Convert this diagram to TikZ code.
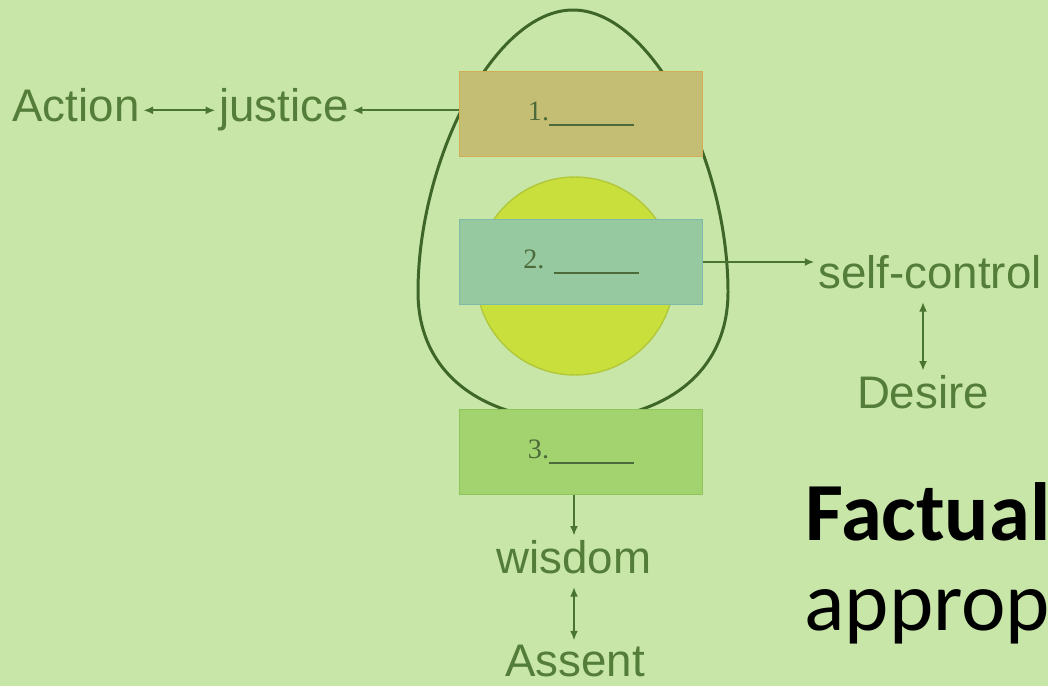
\documentclass[tikz,border=0pt]{standalone}
\usepackage{fontspec}
\setmainfont{Liberation Sans}
\newfontfamily\slidefont{Carlito}
\newfontfamily\blankfont{Liberation Serif}
\usetikzlibrary{arrows,arrows.meta,positioning}

\definecolor{slidebg}{HTML}{C7E6A7}
\definecolor{eggline}{HTML}{3E6628}
\definecolor{wordgreen}{HTML}{557D3A}
\definecolor{arrowgreen}{HTML}{4A7530}
\definecolor{yolk}{HTML}{C9DF3C}
\definecolor{yolkline}{HTML}{B2C83A}
\definecolor{boxone}{HTML}{C3BE74}
\definecolor{boxoneline}{HTML}{D1AE55}
\definecolor{boxtwo}{HTML}{96C9A0}
\definecolor{boxtwoline}{HTML}{7DBBA8}
\definecolor{boxthree}{HTML}{A2D36F}
\definecolor{boxthreeline}{HTML}{8DC45C}
\definecolor{blanktext}{HTML}{4D6B3A}

\newcommand{\blankline}{\rule[-3pt]{1.7cm}{0.9pt}}

\begin{document}
\begin{tikzpicture}[x=0.02cm,y=-0.02cm,
  word/.style={text=wordgreen,font=\fontsize{26}{29}\selectfont,
    text height=19pt,text depth=5.7pt,inner sep=2pt},
  blank/.style={draw=#1line,fill=#1,line width=0.8pt,minimum width=4.86cm,
    minimum height=1.7cm,inner sep=0pt,text=blanktext,
    font=\blankfont\fontsize{16}{18}\selectfont},
  link/.style={draw=arrowgreen,line width=1.1pt,-{Latex[length=5.5pt,width=4.5pt]}},
  twoway/.style={draw=arrowgreen,line width=1.1pt,
    {Latex[length=5.5pt,width=4.5pt]}-{Latex[length=5.5pt,width=4.5pt]}}]
\useasboundingbox (0,0) rectangle (1048,686);
\fill[slidebg] (0,0) rectangle (1048,686);

% egg and yolk
\draw[eggline,line width=1.7pt] (573,10)
  .. controls (652,10) and (728,160) .. (728,292)
  .. controls (728,376) and (660,420) .. (573,420)
  .. controls (486,420) and (418,376) .. (418,292)
  .. controls (418,160) and (494,10) .. (573,10);
\path (575,276) node[draw=yolkline,fill=yolk,line width=0.8pt,shape=circle,
  minimum size=3.96cm,inner sep=0pt] (yolk) {};

% the three blanks
\path (581,114) node[blank=boxone] (B1) {1.\blankline};
\path (581,262) node[blank=boxtwo] (B2) {2. \blankline};
\path (581,452) node[blank=boxthree] (B3) {3.\blankline};

% words
\path (76,122)  node[word,anchor=base] (action) {Action};
\path (284,122) node[word,anchor=base] (justice) {justice};
\path (930,288) node[word,anchor=base] (control) {self-control};
\path (923,408) node[word,anchor=base] (desire) {Desire};
\path (574,573) node[word,anchor=base] (wisdom) {wisdom};
\path (575,676) node[word,anchor=base,text depth=0pt,inner sep=1pt] (assent) {Assent};

\path (805,540) node[anchor=base west,inner sep=0pt,
  font=\slidefont\bfseries\fontsize{47}{50}\selectfont] (factual) {Factual};
\path (804,630) node[anchor=base west,inner sep=0pt,
  font=\slidefont\fontsize{48}{52}\selectfont] (approp) {approp};

% connectors
\draw[link] (B1.west |- justice.east) to (justice.east);
\draw[twoway] (action.east) to (justice.west);
\draw[link] (B2.east) to (control.west |- B2.east);
\draw[twoway] (desire.north |- control.south) to (desire.north);
\draw[link] (wisdom.north |- B3.south) to (wisdom.north);
\draw[twoway] (wisdom.north |- wisdom.south) to (wisdom.north |- assent.north);
\end{tikzpicture}
\end{document}
